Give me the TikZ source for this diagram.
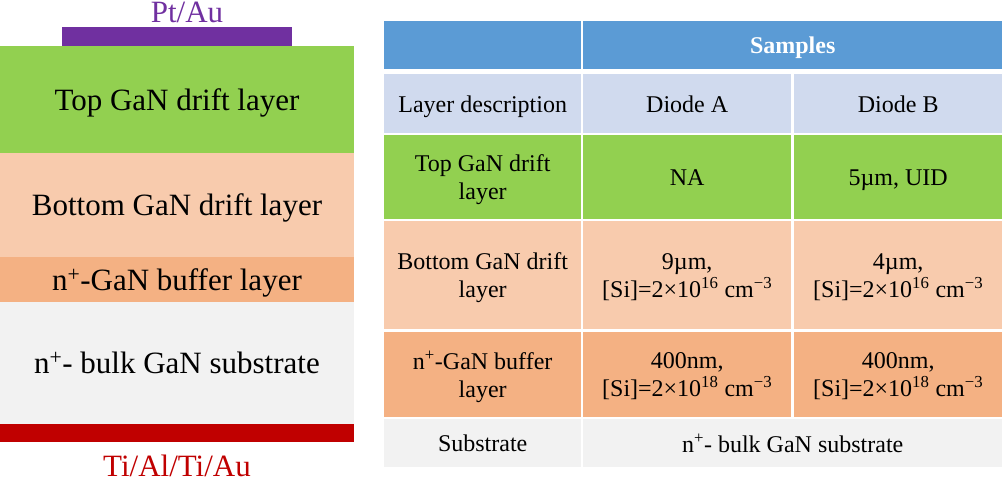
\documentclass[tikz,border=0pt]{standalone}
\usepackage{fontspec}
\setmainfont{Liberation Serif}[Ligatures=TeX]
\usetikzlibrary{positioning}
\definecolor{hdblue}{HTML}{5B9BD5}
\definecolor{rowblue}{HTML}{D0DAEE}
\definecolor{driftgreen}{HTML}{92D050}
\definecolor{driftpeach}{HTML}{F8CBAD}
\definecolor{bufforange}{HTML}{F4B183}
\definecolor{subgray}{HTML}{F2F2F2}
\definecolor{ptpurple}{HTML}{7030A0}
\definecolor{tired}{HTML}{C00000}

\begin{document}
\begin{tikzpicture}[x=1pt, y=-1pt,
		stacktext/.style={font=\fontsize{31}{35}\selectfont, inner sep=0pt, text depth=0pt},
		cell/.style={anchor=north west, inner sep=0pt, align=center, text depth=0pt, font=\fontsize{24}{28}\selectfont, minimum height=#1},
		hd/.style={cell=48pt, fill=hdblue, text=white, font=\fontsize{24}{28}\selectfont\bfseries}]
				\useasboundingbox (0,0) rectangle (1002,479);
				
				\draw[fill=ptpurple, draw=none] (62,27) rectangle (292,46);
				\draw[fill=driftgreen, draw=none] (0,46) rectangle (354,153);
				\draw[fill=driftpeach, draw=none] (0,153) rectangle (354,257);
				\draw[fill=bufforange, draw=none] (0,257) rectangle (354,302);
				\draw[fill=subgray, draw=none] (0,302) rectangle (354,424);
				\draw[fill=tired, draw=none] (0,424) rectangle (354,442);
				
				\node[stacktext, text=ptpurple, anchor=base] (ptau) at (187,23) {Pt/Au};
				\node[stacktext] (topdrift) at (177,99.5) {Top GaN drift layer};
				\node[stacktext] (botdrift) at (177,205) {Bottom GaN drift layer};
				\node[stacktext] (buffer) at (177,279.5) {n\textsuperscript{+}-GaN buffer layer};
				\node[stacktext] (substrate) at (177,363) {n\textsuperscript{+}- bulk GaN substrate};
				\node[stacktext, text=tired, anchor=base] (tialtiau) at (177,476) {Ti/Al/Ti/Au};
				
				\node[hd, minimum width=197pt] (hdblank) at (384,21) {};
				\node[hd, minimum width=419pt] (samples) at (583,21) {Samples};
				
				\node[cell=59pt, fill=rowblue, minimum width=197pt] (descr) at (384,74) {Layer description};
				\node[cell=59pt, fill=rowblue, minimum width=208pt] (diodea) at (583,74) {Diode A};
				\node[cell=59pt, fill=rowblue, minimum width=208pt] (diodeb) at (794,74) {Diode B};
				
				\node[cell=84pt, fill=driftgreen, minimum width=197pt] (topname) at (384,135) {Top GaN drift\\layer};
				\node[cell=84pt, fill=driftgreen, minimum width=208pt] (topa) at (583,135) {NA};
				\node[cell=84pt, fill=driftgreen, minimum width=208pt] (topb) at (794,135) {5µm, UID};
				
				\node[cell=108pt, fill=driftpeach, minimum width=197pt] (botname) at (384,221) {Bottom GaN drift\\layer};
				\node[cell=108pt, fill=driftpeach, minimum width=208pt] (bota) at (583,221) {9µm,\\{}[Si]=2×10\textsuperscript{16} cm\textsuperscript{−3}};
				\node[cell=108pt, fill=driftpeach, minimum width=208pt] (botb) at (794,221) {4µm,\\{}[Si]=2×10\textsuperscript{16} cm\textsuperscript{−3}};
				
				\node[cell=85pt, fill=bufforange, minimum width=197pt] (bufname) at (384,332) {n\textsuperscript{+}-GaN buffer\\layer};
				\node[cell=85pt, fill=bufforange, minimum width=208pt] (bufa) at (583,332) {400nm,\\{}[Si]=2×10\textsuperscript{18} cm\textsuperscript{−3}};
				\node[cell=85pt, fill=bufforange, minimum width=208pt] (bufb) at (794,332) {400nm,\\{}[Si]=2×10\textsuperscript{18} cm\textsuperscript{−3}};
				
				\node[cell=48pt, fill=subgray, minimum width=197pt] (subname) at (384,419) {Substrate};
				\node[cell=48pt, fill=subgray, minimum width=419pt] (subab) at (583,419) {n\textsuperscript{+}- bulk GaN substrate};
			\end{tikzpicture}
\end{document}
